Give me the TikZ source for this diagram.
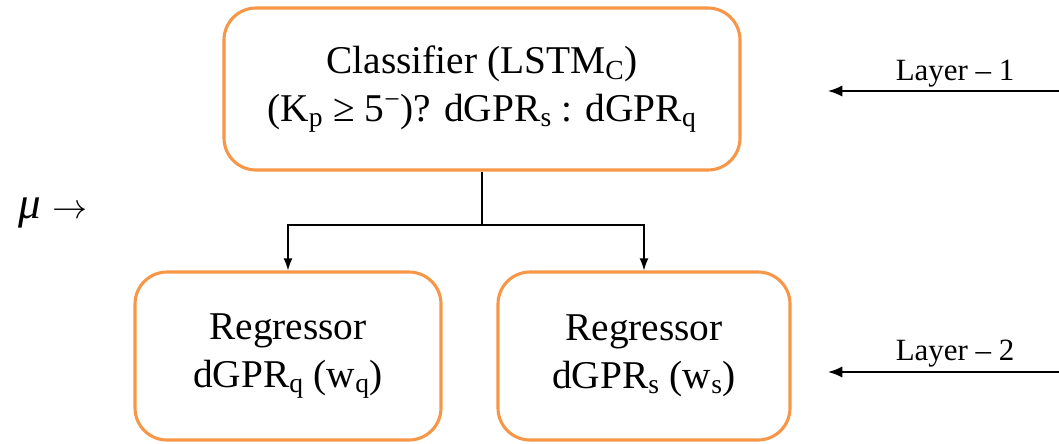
\documentclass[tikz,border=0pt]{standalone}
\usepackage{fontspec}
\setmainfont{Liberation Serif}
\usepackage{tikz}
\usetikzlibrary{arrows.meta, positioning, calc}
\definecolor{boxorange}{RGB}{247,150,70}

\begin{document}
\begin{tikzpicture}[
  block/.style={draw=boxorange, line width=2.2pt, rounded corners=0.8cm, fill=white,
                align=center, font=\fontsize{28}{34}\selectfont, inner sep=0pt},
  layertext/.style={font=\fontsize{22}{26}\selectfont},
  branch/.style={-{Latex[length=3mm,width=2.2mm]}, line width=0.9pt},
  layerarrow/.style={-{Latex[length=3.6mm,width=2.8mm]}, line width=1.2pt}
]
\useasboundingbox (0,0) rectangle (26.475,-11.075);

% Classifier
\node[block, minimum width=12.9cm, minimum height=4.05cm] (clf) at (12.05,-2.225)
  {Classifier (LSTM\textsubscript{C})\\(K\textsubscript{p} ≥ 5\textsuperscript{−})? dGPR\textsubscript{s} : dGPR\textsubscript{q}};

% Regressors
\node[block, minimum width=7.65cm, minimum height=4.2cm] (regq) at (7.2,-8.9)
  {Regressor\\dGPR\textsubscript{q} (w\textsubscript{q})};
\node[block, minimum width=7.3cm, minimum height=4.2cm] (regs) at (16.1,-8.9)
  {Regressor\\dGPR\textsubscript{s} (w\textsubscript{s})};

% Branch
\coordinate (split) at (12.05,-5.625);
\draw[line width=0.9pt] (clf.south) -- (split);
\draw[branch] (split) -| (regq.north);
\draw[branch] (split) -| (regs.north);

% Input
\node[font=\fontsize{32}{38}\selectfont] (mu) at (1.32,-5.33) {\textit{μ}~$\rightarrow$};

% Layers
\node[layertext] (lay1) at (23.875,-1.85) {Layer – 1};
\coordinate (l1a) at (26.475,-2.275);
\coordinate (l1b) at (20.7,-2.275);
\draw[layerarrow] (l1a) -- (l1b);

\node[layertext] (lay2) at (23.875,-8.85) {Layer – 2};
\coordinate (l2a) at (26.475,-9.3);
\coordinate (l2b) at (20.7,-9.3);
\draw[layerarrow] (l2a) -- (l2b);
\end{tikzpicture}
\end{document}
